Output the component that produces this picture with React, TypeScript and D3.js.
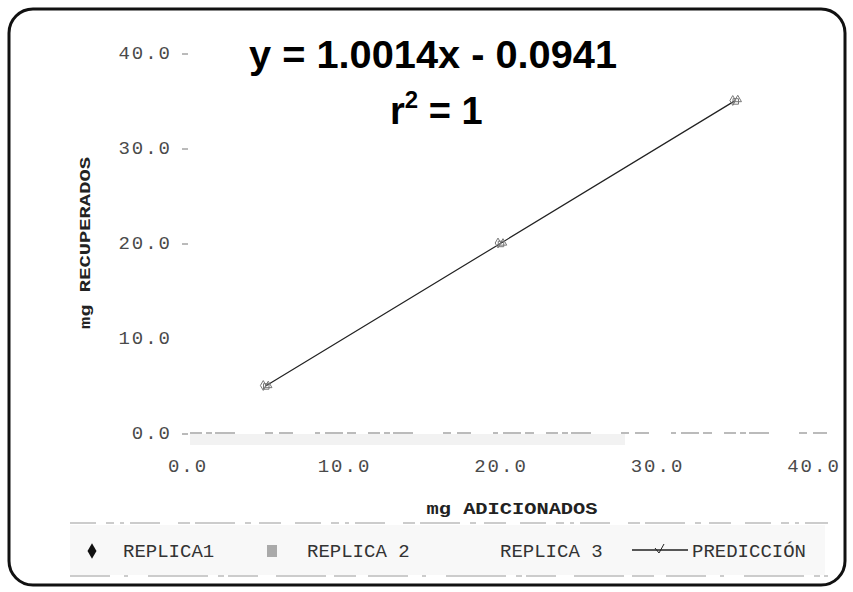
import React from "react";
import * as d3 from "d3";

// Recovery study: mg added vs mg recovered (three replicas + fitted prediction)
const addedMg = [5, 20, 35];
const replica1 = [5.0, 20.0, 35.0];
const replica2 = [4.9, 19.9, 34.9];
const replica3 = [5.0, 20.0, 35.1];
const prediction = [4.91, 19.93, 34.96];

const xTicks = [0, 10, 20, 30, 40];
const yTicks = [0, 10, 20, 30, 40];
const yTicksWithDash = [0, 20, 30, 40];
const legendLabels = ["REPLICA1", "REPLICA 2", "REPLICA 3", "PREDICCIÓN"];

const W = 853;
const H = 592;
const mono = "'Liberation Mono', 'DejaVu Sans Mono', monospace";
const sans = "'Liberation Sans', Arial, sans-serif";

export default function App() {
  const x = d3.scaleLinear().domain([0, 40]).range([187, 813]);
  const y = d3.scaleLinear().domain([0, 40]).range([433, 53]);
  const fmt = d3.format(".1f");

  const predLine = d3
    .line<number>()
    .x((_, i) => x(addedMg[i]))
    .y((d) => y(d));

  const diamond = d3.symbol(d3.symbolDiamond, 28);
  const square = d3.symbol(d3.symbolSquare, 30);
  const triangle = d3.symbol(d3.symbolTriangle, 24);

  return (
    <div style={{ position: "fixed", left: 0, top: 0 }}>
      <svg width={W} height={H} viewBox={`0 0 ${W} ${H}`} style={{ display: "block", background: "#fff" }}>
        {/* outer frame */}
        <rect x={9} y={9} width={836} height={576} rx={24} ry={24} fill="none" stroke="#111" strokeWidth={3} />

        {/* equation */}
        <text x={433} y={68} textAnchor="middle" fontFamily={sans} fontWeight="bold" fontSize={38}
          textLength={368} lengthAdjust="spacingAndGlyphs" fill="#000">
          y = 1.0014x - 0.0941
        </text>
        <text x={390} y={124} fontFamily={sans} fontWeight="bold" fontSize={38} fill="#000">
          r<tspan dy={-16} fontSize={24}>2</tspan>
          <tspan dy={16}> = 1</tspan>
        </text>

        {/* y axis ticks */}
        {yTicks.map((t) => (
          <g key={`y${t}`}>
            <text x={172} y={y(t) + 6} textAnchor="end" fontFamily={mono} fontSize={19} letterSpacing={2} fill="#4a4a4a">
              {fmt(t)}
            </text>
            {yTicksWithDash.includes(t) && (
              <line x1={182} x2={188} y1={y(t) + 1} y2={y(t) + 1} stroke="#777" strokeWidth={1} />
            )}
          </g>
        ))}

        {/* x axis ticks */}
        {xTicks.map((t) => (
          <text key={`x${t}`} x={x(t) + 1} y={472} textAnchor="middle" fontFamily={mono} fontSize={19} letterSpacing={2} fill="#4a4a4a">
            {fmt(t)}
          </text>
        ))}

        {/* x axis baseline (faint, broken) */}
        <rect x={190} y={434} width={435} height={11} fill="#f2f2f2" />
        <line x1={x(0) + 3} x2={830} y1={y(0)} y2={y(0)} stroke="#a5a5a5" strokeWidth={1.5}
          strokeDasharray="12 4 6 3 20 30 8 6 14 22 5 5 18 4 9 12" />

        {/* axis titles */}
        <text transform={`translate(90,${243}) rotate(-90)`} textAnchor="middle" fontFamily={mono} fontWeight="bold"
          fontSize={15} textLength={172} lengthAdjust="spacingAndGlyphs" fill="#222">
          mg RECUPERADOS
        </text>
        <text x={512} y={514} textAnchor="middle" fontFamily={mono} fontWeight="bold" fontSize={16}
          textLength={171} lengthAdjust="spacingAndGlyphs" fill="#222">
          mg ADICIONADOS
        </text>

        {/* prediction line */}
        <path d={predLine(prediction) ?? ""} fill="none" stroke="#222" strokeWidth={1.2} />

        {/* replica markers */}
        {addedMg.map((a, i) => (
          <g key={`m${i}`} fill="none" stroke="#777" strokeWidth={1}>
            <path d={diamond() ?? ""} transform={`translate(${x(a) - 2},${y(replica1[i])})`} />
            <path d={square() ?? ""} transform={`translate(${x(a) + 1},${y(replica2[i])})`} />
            <path d={triangle() ?? ""} transform={`translate(${x(a) + 3},${y(replica3[i])})`} />
          </g>
        ))}

        {/* legend */}
        <rect x={70} y={525} width={755} height={50} fill="#f8f8f8" />
        <line x1={70} x2={828} y1={523} y2={523} stroke="#999" strokeWidth={1.2}
          strokeDasharray="26 10 8 6 4 6 30 18 12 5 40 10 6 8 22 14" />
        <line x1={70} x2={828} y1={576} y2={576} stroke="#999" strokeWidth={1.2}
          strokeDasharray="40 14 4 20 60 10 6 4 30 18 50 8 22 12" />

        <path d={d3.symbol(d3.symbolDiamond, 70)() ?? ""} transform="translate(92,551)" fill="#111" />
        <text x={123} y={557} fontFamily={mono} fontSize={19} fill="#333">{legendLabels[0]}</text>

        <rect x={267} y={545} width={10} height={12} fill="#aaa" />
        <text x={307} y={557} fontFamily={mono} fontSize={19} fill="#333">{legendLabels[1]}</text>

        <text x={500} y={557} fontFamily={mono} fontSize={19} fill="#333">{legendLabels[2]}</text>

        <line x1={632} x2={688} y1={550} y2={550} stroke="#222" strokeWidth={1.3} />
        <path d="M655,548 L659,553 L664,544" fill="none" stroke="#222" strokeWidth={1} />
        <text x={692} y={557} fontFamily={mono} fontSize={19} fill="#333">{legendLabels[3]}</text>
      </svg>
    </div>
  );
}
